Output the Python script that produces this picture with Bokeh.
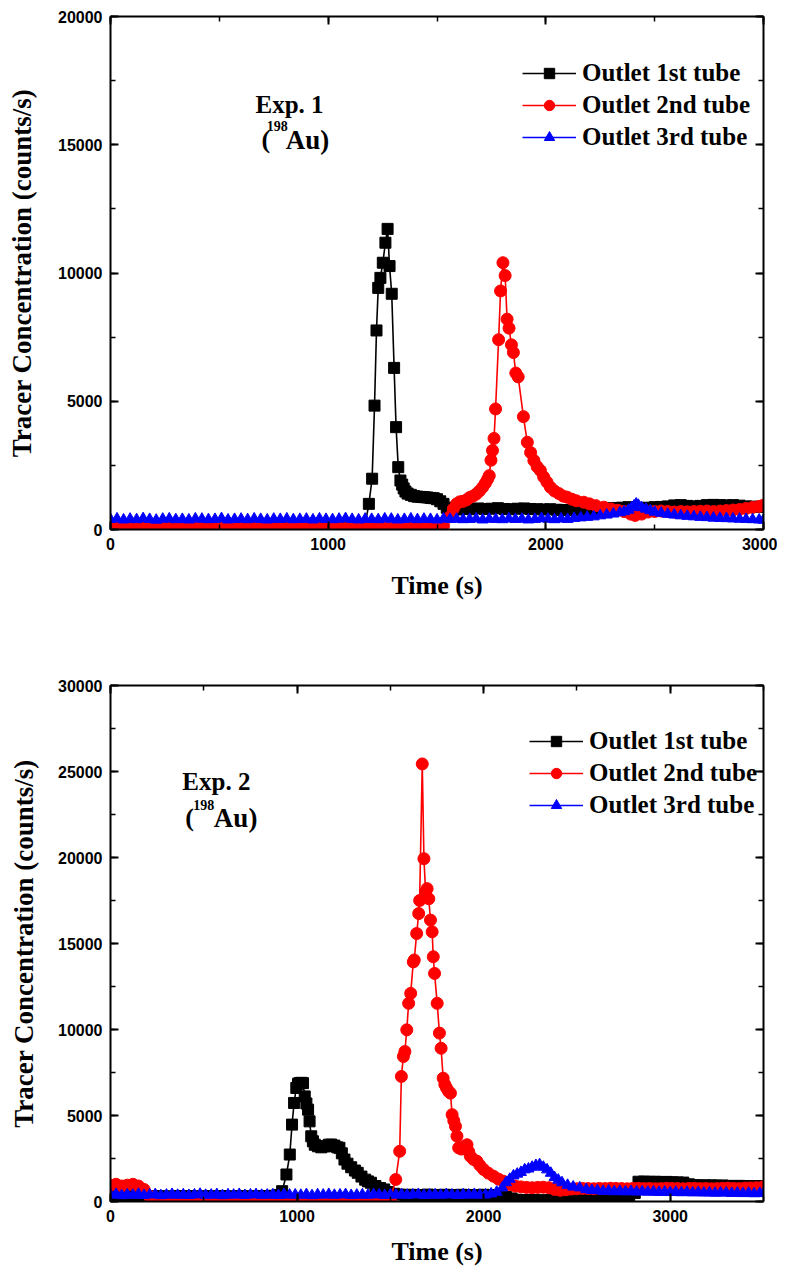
from bokeh.plotting import figure
from bokeh.models import Range1d, LinearAxis, SingleIntervalTicker, Label, Legend, LegendItem
from bokeh.layouts import column
from bokeh.embed import file_html
from bokeh.resources import INLINE

# ---------------- Experiment 1 ----------------
e1_black_t = [0,30,60,90,120,150,180,210,240,270,300,330,360,390,420,450,480,510,540,570,600,630,660,690,720,750,780,810,840,870,900,930,960,990,1020,1050,1080,1110,1140,1170,
              1187,1202,1213,1222,1230,1240,1251,1263,1273,1282,1292,1303,1312,1322,1332,1340,1347,1355,1365,1380,1395,1410,1425,1440,1455,1470,1485,1500,1515,1530,1545,1555,1570,
              1600,1630,1660,1690,1720,1750,1780,1810,1840,1870,1900,1930,1960,1990,2020,2050,2080,2110,2140,2170,2200,2230,2260,2290,2320,2350,2380,2410,2440,2470,2500,2530,2560,2590,2620,2650,2680,2710,2740,2770,2800,2830,2860,2890,2920,2950,2980,3000]
e1_black_c = [160,140,170,150,130,160,150,140,170,150,140,160,150,130,150,170,140,150,160,140,150,170,150,140,160,150,130,150,160,140,150,170,150,140,160,150,140,160,150,200,
              1000,1980,4830,7760,9420,9810,10400,11180,11720,10270,9190,6300,3990,2430,1910,1750,1600,1480,1400,1350,1300,1280,1270,1260,1250,1230,1220,1180,1100,1000,850,760,740,
              780,800,790,820,800,810,830,800,790,810,820,800,790,780,790,770,760,750,760,770,780,800,820,830,840,850,870,850,830,850,870,880,900,940,950,920,900,920,950,960,950,940,950,930,900,890,880,880]

e1_red_t = [0,30,60,90,120,150,180,210,240,270,300,330,360,390,420,450,480,510,540,570,600,630,660,690,720,750,780,810,840,870,900,930,960,990,1020,1050,1080,1110,1140,1170,1200,1230,1260,1290,1320,1350,1380,1410,1440,1470,1500,1530,
            1560,1575,1590,1605,1620,1635,1650,1665,1680,1695,1710,1722,1732,1740,1748,1755,1762,1769,1783,1792,1803,1813,1822,1831,1842,1851,1862,1873,1897,1915,
            1930,1945,1960,1975,1990,2005,2021,2040,2060,2080,2098,2120,2140,2174,2200,2230,2266,2300,2330,2360,2390,2410,2440,2470,2500,2530,2560,2590,2620,2650,2680,2710,2740,2770,2800,2830,2860,2890,2920,2950,2980,3000]
e1_red_c = [60,50,70,60,40,60,50,70,60,50,60,40,60,70,50,60,50,60,70,50,60,40,60,50,70,60,50,60,40,60,70,50,60,50,60,70,50,60,40,60,50,70,60,50,60,40,60,70,50,60,80,150,
            500,800,1000,1080,1100,1150,1250,1300,1380,1500,1650,1800,1950,2100,2700,3080,3550,4700,7400,9300,10400,9900,8200,7850,7200,6900,6100,5950,4400,3400,
            3000,2690,2450,2300,2050,1850,1650,1500,1400,1300,1260,1180,1120,1064,1000,930,870,800,750,700,600,550,600,680,700,720,700,680,700,690,700,710,720,700,720,740,760,780,820,860,900,950]

e1_blue_t = [0,30,60,90,120,150,180,210,240,270,300,330,360,390,420,450,480,510,540,570,600,630,660,690,720,750,780,810,840,870,900,930,960,990,1020,1050,1080,1110,1140,1170,1200,1230,1260,1290,1320,1350,1380,1410,1440,1470,1500,1530,1560,1590,1620,1650,1680,1710,1740,1770,1800,1830,1860,1890,1920,1950,1980,2010,2040,2070,2100,2130,2160,
             2190,2220,2250,2280,2310,2340,2360,2380,2395,2405,2415,2425,2440,2460,2480,2500,2530,2560,2590,2620,2650,2680,2710,2740,2770,2800,2830,2860,2890,2920,2950,2980,3000]
e1_blue_c = [400,420,380,410,390,430,400,370,410,420,390,400,380,420,410,390,400,430,380,400,410,390,420,400,380,410,400,420,390,400,410,380,420,400,390,410,430,400,380,410,400,390,420,410,380,400,420,390,410,400,380,420,400,410,390,400,420,380,410,400,390,420,400,410,380,400,430,410,390,420,400,440,460,
             480,500,540,570,610,660,700,760,860,920,1000,950,860,800,740,680,640,600,570,540,520,500,480,470,450,440,430,420,410,400,390,380,370]

# ---------------- Experiment 2 ----------------
e2_black_t = [0,30,60,90,120,150,180,210,240,270,300,330,360,390,420,450,480,510,540,570,600,630,660,690,720,750,780,810,840,870,900,
              920,943,961,973,984,996,1005,1014,1023,1032,1041,1050,1059,1067,1076,1085,1095,1112,1130,1150,1170,1183,1200,1215,1227,1240,1254,1270,1290,1310,1325,1345,1365,1380,1396,1420,1445,1467,1490,1520,1550,
              1580,1610,1640,1670,1700,1730,1760,1790,1820,1850,1880,1910,1940,1970,2000,2030,2060,2090,2120,2150,2180,2210,2240,2270,2300,2330,2360,2390,2420,2450,2480,2510,2540,2570,2600,2630,2660,2690,2720,2750,2780,
              2810,2830,2860,2890,2920,2950,2980,3010,3040,3070,3100,3130,3160,3190,3220,3250,3280,3310,3340,3370,3400,3430,3460,3490,3500]
e2_black_c = [300,320,280,310,290,300,330,290,300,310,280,300,320,290,310,300,280,310,300,290,320,300,280,310,300,290,310,300,320,330,380,
              600,1570,2730,4470,5730,6600,6850,6890,6900,6880,6110,5700,5340,4660,3790,3500,3300,3210,3150,3200,3300,3310,3250,3150,3120,2800,2440,2200,1990,1800,1670,1450,1270,1170,1090,900,780,700,550,450,400,
              380,390,370,380,400,380,370,390,380,370,390,380,370,380,390,370,360,330,260,180,100,80,70,80,60,70,80,60,70,80,70,60,80,70,90,100,110,120,110,130,120,
              500,1150,1160,1140,1150,1130,1140,1120,1110,1100,1000,950,940,930,940,920,930,910,900,910,900,890,900,880,880]

e2_red_t = [0,30,60,90,120,150,180,210,240,270,300,330,360,390,420,450,480,510,540,570,600,630,660,690,720,750,780,810,840,870,900,930,960,990,1020,1050,1080,1110,1140,1170,1200,1230,1260,1290,1320,1350,1380,1410,1440,1470,1500,
            1529,1550,1559,1570,1578,1588,1598,1609,1623,1628,1641,1652,1657,1671,1680,1689,1697,1706,1715,1724,1730,1737,1751,1763,1772,1783,1792,1801,1812,1822,1831,1840,1849,1857,1866,1880,1895,1911,1920,1929,1945,1964,1980,2000,2025,2053,2080,2106,2125,2142,
            2170,2200,2230,2260,2290,2320,2350,2380,2410,2440,2470,2500,2530,2560,2590,2620,2650,2680,2710,2740,2770,2800,2830,2860,2890,2920,2950,2980,3010,3040,3070,3100,3130,3160,3190,3220,3250,3280,3310,3340,3370,3400,3430,3460,3490,3500]
e2_red_c = [950,1000,900,950,1000,900,700,300,150,100,110,90,100,120,100,90,110,100,90,100,110,100,90,100,120,100,90,110,100,90,100,110,100,90,100,120,100,90,110,100,90,100,110,100,90,100,120,100,90,110,150,
            1280,2920,7270,8430,8720,9980,11520,12100,13930,14040,15580,16740,17500,25440,19930,18000,18190,17600,16360,15680,14230,13260,11520,9790,8910,7170,6800,6600,6400,6300,5050,4700,4370,3800,3120,3050,3200,3300,2900,2630,2450,2340,2100,1860,1650,1470,1300,1180,1080,990,
            900,850,820,800,820,830,800,700,650,680,720,740,760,750,740,760,750,770,760,750,740,760,770,750,760,740,750,770,760,750,740,760,770,750,760,740,750,770,780,760,750,780,790,800,820,850]

e2_blue_t = [0,30,60,90,120,150,180,210,240,270,300,330,360,390,420,450,480,510,540,570,600,630,660,690,720,750,780,810,840,870,900,930,960,990,1020,1050,1080,1110,1140,1170,1200,1230,1260,1290,1320,1350,1380,1410,1440,1470,1500,1530,1560,1590,1620,1650,1680,1710,1740,1770,1800,1830,1860,1890,1920,1950,1980,2010,2040,2070,
             2100,2120,2140,2160,2180,2200,2220,2240,2260,2280,2300,2320,2340,2360,2380,2400,2420,2450,2480,2515,2550,2580,2610,2640,2670,2700,2730,2760,2790,2820,2850,2880,2910,2940,2970,3000,3030,3060,3090,3120,3150,3180,3210,3240,3270,3300,3330,3360,3390,3420,3450,3480,3500]
e2_blue_c = [380,420,350,400,370,430,360,390,410,350,380,420,370,400,360,390,430,370,380,410,350,400,380,420,360,390,410,370,380,400,360,420,380,390,370,410,350,400,380,420,370,390,410,360,380,400,370,420,390,360,400,380,410,370,390,420,360,380,400,370,410,390,360,400,380,420,370,390,450,550,
             800,1100,1300,1500,1600,1700,1850,1900,2000,2100,2150,2000,1850,1650,1400,1250,1100,950,850,800,700,650,640,600,620,580,600,570,590,560,580,550,570,540,560,530,550,520,540,510,530,500,520,490,510,500,480,500,470,490,460,480,470]

# tick settings
e1_x_end, e1_y_end = 3000, 20000
e2_x_end, e2_y_end = 3500, 30000
x_major, y_major = 1000, 5000

SERIES = ["Outlet 1st tube", "Outlet 2nd tube", "Outlet 3rd tube"]
COLORS = ["black", "red", "blue"]
MARKERS = ["square", "circle", "triangle"]
SIZES = [11, 12, 11]

SERIF = "Liberation Serif"
SANS = "Liberation Sans"


def style_axis(ax, ticker, show_labels=True, standoff=8):
    ax.ticker = ticker
    ax.axis_line_width = 2
    ax.axis_line_color = "black"
    ax.major_tick_line_width = 2
    ax.minor_tick_line_width = 1.5
    ax.major_tick_in = 8
    ax.major_tick_out = 0
    ax.minor_tick_in = 5
    ax.minor_tick_out = 0
    if show_labels:
        ax.major_label_text_font = SANS
        ax.major_label_text_font_style = "bold"
        ax.major_label_text_font_size = "16px"
        ax.major_label_text_color = "black"
        ax.major_label_standoff = standoff
    else:
        ax.major_label_text_font_size = "0px"
        ax.major_label_text_color = None
        ax.major_label_standoff = 0


def make_plot(width, height, xend, yend, borders, data, legend_xy, exp_text, label_pos, als_y, als_x, xstand):
    bl, br, bt, bb = borders
    p = figure(width=width, height=height, x_range=Range1d(0, xend), y_range=Range1d(0, yend),
               output_backend="svg", toolbar_location=None,
               min_border_left=bl, min_border_right=br, min_border_top=bt, min_border_bottom=bb,
               x_axis_label="Time (s)", y_axis_label="Tracer Concentration (counts/s)")
    p.xgrid.visible = False
    p.ygrid.visible = False
    p.outline_line_color = None
    p.background_fill_color = "white"
    p.border_fill_color = "white"

    xt = SingleIntervalTicker(interval=x_major, num_minor_ticks=2)
    yt = SingleIntervalTicker(interval=y_major, num_minor_ticks=2)
    style_axis(p.xaxis[0], xt, True, xstand)
    style_axis(p.yaxis[0], yt, True, 8)
    for ax in (p.xaxis[0], p.yaxis[0]):
        ax.axis_label_text_font = SERIF
        ax.axis_label_text_font_style = "bold"
        ax.axis_label_text_color = "black"
    p.xaxis[0].axis_label_text_font_size = "26px"
    p.yaxis[0].axis_label_text_font_size = "27px"
    p.xaxis[0].axis_label_standoff = als_x
    p.yaxis[0].axis_label_standoff = als_y

    top = LinearAxis()
    style_axis(top, xt, False)
    p.add_layout(top, "above")
    right = LinearAxis()
    style_axis(right, yt, False)
    p.add_layout(right, "right")

    items = []
    for (t, c), name, col, mk, sz in zip(data, SERIES, COLORS, MARKERS, SIZES):
        ln = p.line(t, c, line_color=col, line_width=1.6)
        sc = p.scatter(t, c, marker=mk, size=sz, fill_color=col, line_color=col)
        items.append(LegendItem(label=name, renderers=[ln, sc]))

    leg = Legend(items=items, location=legend_xy, border_line_color=None, background_fill_alpha=0,
                 padding=0, margin=0, spacing=4, glyph_width=54, glyph_height=26, label_height=26,
                 label_standoff=6, label_text_font=SERIF, label_text_font_style="bold",
                 label_text_font_size="25px", label_text_color="black")
    p.add_layout(leg)

    (ex, ey), (px_, py_), (sx, sy), (ax_, ay) = label_pos
    p.add_layout(Label(x=ex, y=ey, text=exp_text, text_font=SERIF, text_font_style="bold",
                       text_font_size="25px", text_baseline="middle", text_align="left", text_color="black"))
    p.add_layout(Label(x=px_, y=py_, text="(", text_font=SERIF, text_font_style="bold",
                       text_font_size="26px", text_baseline="middle", text_align="left", text_color="black"))
    p.add_layout(Label(x=sx, y=sy, text="198", text_font=SERIF, text_font_style="bold",
                       text_font_size="14px", text_baseline="middle", text_align="left", text_color="black"))
    p.add_layout(Label(x=ax_, y=ay, text="Au)", text_font=SERIF, text_font_style="bold",
                       text_font_size="27px", text_baseline="middle", text_align="left", text_color="black"))
    return p


W = 777
p1 = make_plot(W, 612, e1_x_end, e1_y_end, (110, 14, 16, 83),
               [(e1_black_t, e1_black_c), (e1_red_t, e1_red_c), (e1_blue_t, e1_blue_c)],
               (412, 378), "Exp. 1",
               ((666, 16550), (694, 15200), (718, 15720), (805, 15200)), 18, 18, 8)
p2 = make_plot(W, 658, e2_x_end, e2_y_end, (108, 12, 73, 69),
               [(e2_black_t, e2_black_c), (e2_red_t, e2_red_c), (e2_blue_t, e2_blue_c)],
               (419, 382), "Exp. 2",
               ((385, 24400), (400, 22320), (444, 23070), (554, 22320)), 16, 12, 8)

layout = column(p1, p2)
open("out.html", "w").write(file_html(layout, INLINE))
